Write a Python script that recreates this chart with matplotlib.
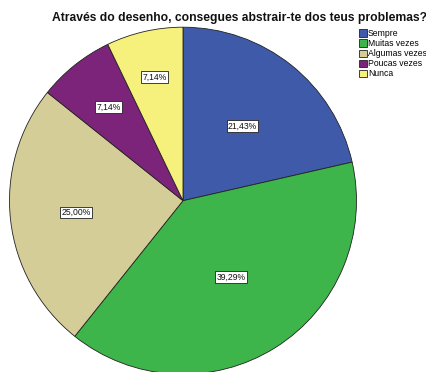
import numpy as np
import matplotlib.pyplot as plt

categorias = ["Sempre", "Muitas vezes", "Algumas vezes", "Poucas vezes", "Nunca"]
percentagens = [21.43, 39.29, 25.00, 7.14, 7.14]
cores = ["#3F5AA8", "#3DB54A", "#D5CD98", "#7B2479", "#F6F17C"]
# distancia radial de cada rotulo (fracao do raio)
dist_rotulos = [0.55, 0.52, 0.62, 0.69, 0.73]

plt.rcParams["font.family"] = ["Liberation Sans", "DejaVu Sans"]

fig = plt.figure(figsize=(4.27, 3.72), dpi=100)
ax = fig.add_axes([9.5 / 427, -2.2 / 372, 347 / 427, 347 / 372])

wedges, _ = ax.pie(percentagens, colors=cores, startangle=90, counterclock=False,
                   radius=1, wedgeprops=dict(edgecolor="#222222", linewidth=0.6))
ax.set_xlim(-1, 1)
ax.set_ylim(-1, 1)
ax.set_aspect("equal")
ax.axis("off")

for w, p, d in zip(wedges, percentagens, dist_rotulos):
    ang = np.deg2rad((w.theta1 + w.theta2) / 2)
    ax.text(d * np.cos(ang), d * np.sin(ang), f"{p:.2f}%".replace(".", ","),
            ha="center", va="center", fontsize=6.2, color="#111111",
            bbox=dict(boxstyle="square,pad=0.15", facecolor="white",
                      edgecolor="#222222", linewidth=0.6))

fig.text(240 / 427, 1 - 18 / 372, "Através do desenho, consegues abstrair-te dos teus problemas?",
         ha="center", va="center", fontsize=8.7, fontweight="bold", color="#111111")

leg = fig.legend(wedges, categorias, loc="upper left", bbox_to_anchor=(359 / 427, 1 - 29 / 372),
                 frameon=False, fontsize=6.2, handlelength=0.9, handleheight=0.9,
                 handletextpad=0.15, labelspacing=0.12, borderaxespad=0, borderpad=0)

fig.savefig("out.png", dpi=100)
